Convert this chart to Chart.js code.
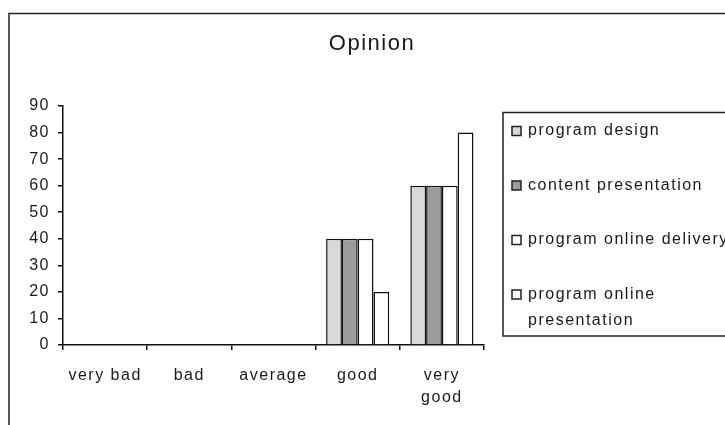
<!DOCTYPE html>
<html>
<head>
<meta charset="utf-8">
<script src="https://cdn.jsdelivr.net/npm/chart.js@4.4.0/dist/chart.umd.min.js"></script>
<style>
  html, body { margin: 0; padding: 0; background: #fff; }
  #wrap { width: 725px; height: 425px; }
</style>
</head>
<body>
<div id="wrap"><canvas id="graph01"></canvas></div>
<script>
const categories = ['very bad', 'bad', 'average', 'good', 'very good'];
const seriesNames = ['program design', 'content presentation', 'program online delivery', 'program online presentation'];
const programDesign = [0, 0, 0, 40, 60];
const contentPresentation = [0, 0, 0, 40, 60];
const onlineDelivery = [0, 0, 0, 40, 60];
const onlinePresentation = [0, 0, 0, 20, 80];
const yMax = 90;
const yStep = 10;

const SERIES_COLORS = ['#d9d9d9', '#9c9c9c', '#ffffff', '#ffffff'];
const TEXT = '#1a1a1a';
const SPACING = '1.5px';

Chart.defaults.font.family = '"Liberation Sans", Arial, sans-serif';
Chart.defaults.font.size = 16;
Chart.defaults.color = TEXT;

// frame, title and boxed legend like the old spreadsheet chart
const decor = {
  id: 'decor',
  beforeLayout(chart) {
    chart.ctx.letterSpacing = SPACING;
  },
  beforeDraw(chart) {
    const ctx = chart.ctx;
    ctx.save();
    ctx.fillStyle = '#fff';
    ctx.fillRect(0, 0, chart.width, chart.height);
    ctx.strokeStyle = '#222';
    ctx.lineWidth = 1.5;
    ctx.strokeRect(9, 13.5, 800, 500);
    ctx.restore();
    ctx.letterSpacing = SPACING;
  },
  afterDraw(chart) {
    const ctx = chart.ctx;
    ctx.save();
    ctx.letterSpacing = SPACING;
    ctx.fillStyle = TEXT;
    ctx.textBaseline = 'middle';

    ctx.font = '22px "Liberation Sans", Arial, sans-serif';
    ctx.textAlign = 'center';
    ctx.fillText('Opinion', 372, 44);

    // legend box
    ctx.strokeStyle = '#222';
    ctx.lineWidth = 1.5;
    ctx.strokeRect(503, 112.5, 400, 223.5);

    ctx.font = '16px "Liberation Sans", Arial, sans-serif';
    ctx.textAlign = 'left';
    let y = 131;
    chart.data.datasets.forEach(function (ds) {
      // greedy wrap of long names
      const words = ds.label.split(' ');
      const lines = [];
      let line = '';
      words.forEach(function (w) {
        const test = line ? line + ' ' + w : w;
        if (line && ctx.measureText(test).width > 210) {
          lines.push(line);
          line = w;
        } else {
          line = test;
        }
      });
      lines.push(line);

      ctx.fillStyle = ds.backgroundColor;
      ctx.fillRect(512, y - 4.5, 9, 9);
      ctx.lineWidth = 1.5;
      ctx.strokeRect(512, y - 4.5, 9, 9);

      ctx.fillStyle = TEXT;
      lines.forEach(function (l, k) {
        ctx.fillText(l, 528, y + k * 26);
      });
      y += 54.5;
    });
    ctx.restore();
  }
};

const values = [programDesign, contentPresentation, onlineDelivery, onlinePresentation];

const bar01 = document.getElementById('graph01');

new Chart(bar01, {
  type: 'bar',
  data: {
    labels: categories.map(c => c === 'very good' ? c.split(' ') : c),
    datasets: seriesNames.map((name, i) => ({
      label: name,
      data: values[i],
      backgroundColor: SERIES_COLORS[i],
      borderColor: '#111',
      borderWidth: 1.5,
      categoryPercentage: 0.75,
      barPercentage: 1.0
    }))
  },
  options: {
    responsive: true,
    maintainAspectRatio: false,
    animation: false,
    layout: {
      padding: { top: 106, right: 241, bottom: 0, left: 0 }
    },
    plugins: {
      legend: { display: false },
      title: { display: false },
      tooltip: { enabled: false }
    },
    scales: {
      x: {
        offset: true,
        grid: {
          offset: true,
          drawOnChartArea: false,
          drawTicks: true,
          tickLength: 5,
          color: '#111',
          lineWidth: 1.5
        },
        border: { display: true, color: '#111', width: 1.5 },
        ticks: {
          padding: 14,
          maxRotation: 0,
          autoSkip: false,
          font: { size: 16, lineHeight: 1.4 }
        },
        afterFit: function (scale) { scale.height = 80; }
      },
      y: {
        min: 0,
        max: yMax,
        ticks: { stepSize: yStep, padding: 8 },
        grid: {
          drawOnChartArea: false,
          tickLength: 5,
          color: '#111',
          lineWidth: 1.5
        },
        border: { display: true, color: '#111', width: 1.5 },
        afterFit: function (scale) { scale.width = 63; }
      }
    }
  },
  plugins: [decor]
});
</script>
</body>
</html>
